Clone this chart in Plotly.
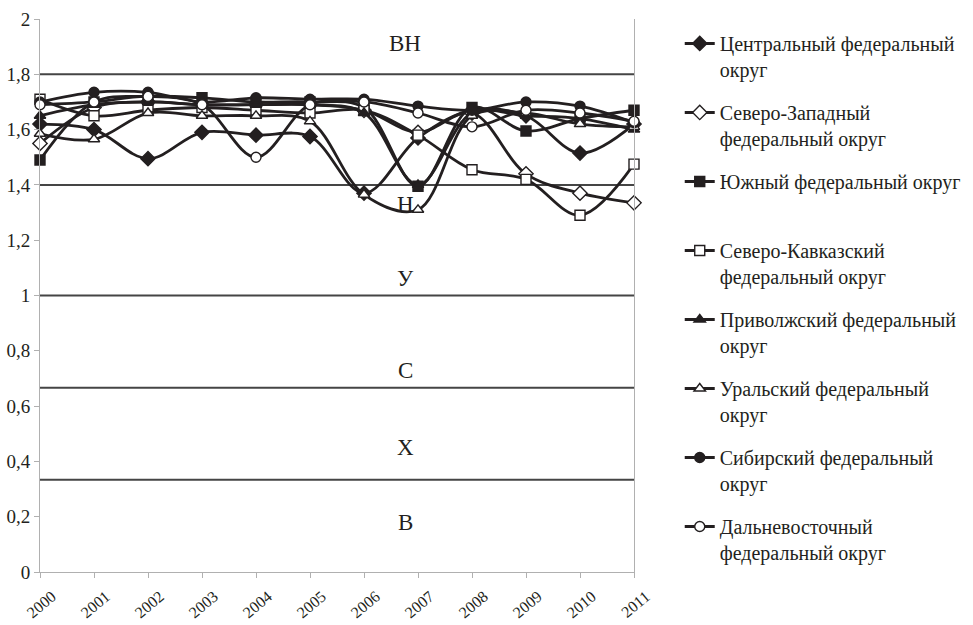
import plotly.graph_objects as go

years = [2000, 2001, 2002, 2003, 2004, 2005, 2006, 2007, 2008, 2009, 2010, 2011]

central = [1.62, 1.60, 1.495, 1.59, 1.58, 1.575, 1.37, 1.57, 1.67, 1.65, 1.515, 1.62]
northwest = [1.55, 1.68, 1.70, 1.69, 1.69, 1.69, 1.67, 1.59, 1.66, 1.44, 1.37, 1.335]
south = [1.49, 1.70, 1.72, 1.715, 1.70, 1.70, 1.68, 1.395, 1.68, 1.595, 1.64, 1.67]
ncaucasus = [1.71, 1.65, 1.67, 1.68, 1.67, 1.66, 1.67, 1.58, 1.455, 1.42, 1.29, 1.475]
volga = [1.65, 1.69, 1.70, 1.69, 1.69, 1.69, 1.66, 1.40, 1.66, 1.65, 1.64, 1.60]
ural = [1.585, 1.565, 1.66, 1.65, 1.65, 1.63, 1.365, 1.31, 1.65, 1.66, 1.62, 1.61]
siberia = [1.70, 1.735, 1.735, 1.70, 1.715, 1.71, 1.71, 1.685, 1.67, 1.70, 1.685, 1.625]
fareast = [1.69, 1.70, 1.72, 1.69, 1.50, 1.69, 1.70, 1.66, 1.61, 1.67, 1.66, 1.63]

names = [
    "Центральный федеральный<br>округ",
    "Северо-Западный<br>федеральный округ",
    "Южный федеральный округ<br> ",
    "Северо-Кавказский<br>федеральный округ",
    "Приволжский федеральный<br>округ",
    "Уральский федеральный<br>округ",
    "Сибирский федеральный<br>округ",
    "Дальневосточный<br>федеральный округ",
]
series = [central, northwest, south, ncaucasus, volga, ural, siberia, fareast]
symbols = ["diamond", "diamond-open", "square", "square-open",
           "triangle-up", "triangle-up-open", "circle", "circle-open"]

levels = [1.8, 1.4, 1.0, 2 / 3, 1 / 3]
zone_labels = ["ВН", "Н", "У", "С", "Х", "В"]
zone_label_y = [1.91, 1.33, 1.06, 0.73, 0.45, 0.18]
zone_label_x = 2006.76

ytick_vals = [0, 0.2, 0.4, 0.6, 0.8, 1.0, 1.2, 1.4, 1.6, 1.8, 2.0]
ytick_text = ["0", "0,2", "0,4", "0,6", "0,8", "1", "1,2", "1,4", "1,6", "1,8", "2"]

INK = "#231f20"
FONT = "'Liberation Serif', 'DejaVu Serif', serif"

fig = go.Figure()

for lv in levels:
    fig.add_shape(type="line", xref="x", yref="y", x0=years[0], x1=years[-1],
                  y0=lv, y1=lv, line=dict(color="#454545", width=2), layer="below")

for nm, vals, sym in zip(names, series, symbols):
    hollow = sym.endswith("-open")
    base = sym.replace("-open", "")
    fig.add_trace(go.Scatter(
        x=years, y=vals, name=nm, mode="lines+markers",
        line=dict(color=INK, width=2.8, shape="spline", smoothing=1.0),
        marker=dict(symbol=base, size=10 if base != "diamond" else 11,
                    color="white" if hollow else INK,
                    line=dict(color=INK, width=1.4)),
        cliponaxis=False, legendgroup=nm,
    ))

for lab, yv in zip(zone_labels, zone_label_y):
    fig.add_annotation(x=zone_label_x, y=yv, text=lab, showarrow=False,
                       font=dict(family=FONT, size=23, color=INK))

fig.update_layout(
    width=973, height=625,
    margin=dict(l=40, r=339, t=19, b=53, autoexpand=False),
    paper_bgcolor="white", plot_bgcolor="white",
    font=dict(family=FONT, size=16, color=INK),
    showlegend=True,
    legend=dict(x=1.077, y=0.991, xanchor="left", yanchor="top",
                font=dict(family=FONT, size=20, color=INK),
                valign="top", tracegroupgap=14, bgcolor="rgba(0,0,0,0)"),
    xaxis=dict(range=[years[0], years[-1]], tickvals=years, tickangle=-40,
               showline=True, linecolor="#b0b0b0", linewidth=1, ticks="outside",
               tickcolor="#b0b0b0", ticklen=5, showgrid=False, zeroline=False,
               automargin=False, ticklabelshift=12, ticklabelstandoff=3,
               tickfont=dict(family=FONT, size=16, color=INK)),
    yaxis=dict(range=[0, 2], tickvals=ytick_vals, ticktext=ytick_text,
               showline=True, linecolor="#b0b0b0", linewidth=1, mirror=True,
               ticks="outside", tickcolor="#b0b0b0", ticklen=5, showgrid=False,
               zeroline=False, automargin=False,
               tickfont=dict(family=FONT, size=19, color=INK)),
)

fig.write_html("out.html", config={"displayModeBar": False},
               post_script="document.body.style.margin='0';document.body.style.padding='0';")
